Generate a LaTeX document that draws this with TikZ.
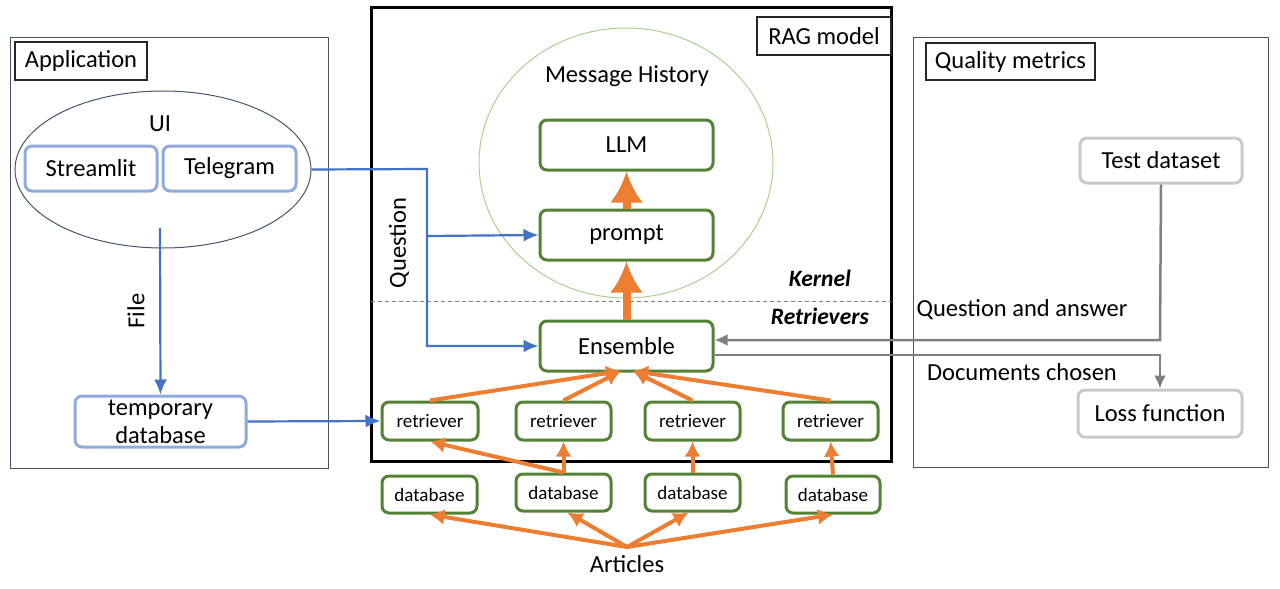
\documentclass[tikz,border=0pt]{standalone}
\usepackage{fontspec}
\setmainfont{Carlito}
\usetikzlibrary{arrows.meta,shapes.geometric}
\definecolor{cblue}{HTML}{4472C4}
\definecolor{lblue}{HTML}{8FAADC}
\definecolor{cgreen}{HTML}{548235}
\definecolor{lgreen}{HTML}{A9D18E}
\definecolor{corange}{HTML}{ED7D31}
\definecolor{cgray}{HTML}{7F7F7F}
\definecolor{lgray}{HTML}{C9C9C9}
\definecolor{slate}{HTML}{44546A}
\newcommand{\fs}[1]{\fontsize{#1}{#1}\selectfont}
\tikzset{
  every node/.style={font=\fs{24.5}, inner sep=0pt},
  frame/.style={draw=slate, line width=1pt},
  titlebox/.style={draw=black!85, line width=1.2pt, inner sep=0pt},
  gbox/.style={draw=cgreen, line width=3pt, rounded corners=7pt, fill=white},
  sbox/.style={gbox, font=\fs{19}},
  bbox/.style={draw=lblue, line width=3pt, rounded corners=7pt, fill=white},
  qbox/.style={draw=lgray, line width=3pt, rounded corners=7pt, fill=white},
  barr/.style={draw=cblue, line width=2.2pt, -{Latex[length=15pt,width=13pt]}},
  oarr/.style={draw=corange, line width=4pt, -{Latex[length=15pt,width=16pt]}},
  bigarr/.style={draw=corange, line width=8pt, -{Latex[length=31pt,width=33pt]}},
  garr/.style={draw=cgray, line width=2.5pt, -{Latex[length=13pt,width=12pt]}},
}
\begin{document}
\begin{tikzpicture}[x=1pt,y=-1pt]
\useasboundingbox (0,0) rectangle (1280,589);

% ---------- Application ----------
\node[frame, minimum width=318pt, minimum height=431pt] (appframe) at (169,252.5) {};
\node[titlebox, minimum width=132pt, minimum height=38pt] (applabel) at (81,61) {Application};
\node[draw=slate, line width=1pt, ellipse, minimum width=296pt, minimum height=157pt] (ui) at (163,169.5) {};
\node (uitext) at (160,124) {UI};
\node[bbox, minimum width=132pt, minimum height=45pt] (streamlit) at (91,168.5) {Streamlit};
\node[bbox, minimum width=133pt, minimum height=45pt] (telegram) at (229.5,168.5) {Telegram};
\node[bbox, minimum width=171pt, minimum height=51pt, align=center, font=\fontsize{24.5}{28}\selectfont] (tempdb) at (160.5,421.5) {temporary\\database};
\coordinate (filestart) at (160,228);
\draw[barr] (filestart) -- (tempdb.north);
\node[rotate=90] (filetext) at (136,311) {File};

% ---------- RAG model ----------
\node[draw=black, line width=3pt, minimum width=520pt, minimum height=454pt] (rag) at (631,234) {};
\node[titlebox, line width=2pt, minimum width=134pt, minimum height=38pt] (raglabel) at (824,36) {RAG model};
\node[draw=lgreen, line width=1pt, ellipse, minimum width=294pt, minimum height=270pt] (hist) at (626,163) {};
\node (histtext) at (627,76) {Message History};
\node[gbox, minimum width=173pt, minimum height=50pt] (llm) at (626.5,145) {LLM};
\node[gbox, minimum width=173pt, minimum height=50pt] (prompt) at (626.5,235) {prompt};
\node[gbox, minimum width=173pt, minimum height=50pt] (ens) at (626.5,346) {Ensemble};
\coordinate (dashL) at (371,301);
\coordinate (dashR) at (891,301);
\draw[gray, line width=1pt, dash pattern=on 4pt off 3pt] (dashL) -- (dashR);
\node[font=\fs{23.5}\bfseries\itshape, anchor=east] (kernel) at (851,278) {Kernel};
\node[font=\fs{23.5}\bfseries\itshape, anchor=east] (retr) at (869,316) {Retrievers};

\draw[bigarr] (prompt.north) -- (llm.south);
\draw[bigarr] (ens.north) -- (prompt.south);

\node[sbox, minimum width=96pt, minimum height=38pt] (r1) at (430,421) {retriever};
\node[sbox, minimum width=95pt, minimum height=38pt] (r2) at (563.5,421) {retriever};
\node[sbox, minimum width=95pt, minimum height=38pt] (r3) at (692.5,421) {retriever};
\node[sbox, minimum width=95pt, minimum height=38pt] (r4) at (830.5,421) {retriever};

\node[sbox, minimum width=95pt, minimum height=37pt] (d1) at (429.5,494.5) {database};
\node[sbox, minimum width=95pt, minimum height=37pt] (d2) at (563.5,492.5) {database};
\node[sbox, minimum width=95pt, minimum height=37pt] (d3) at (692.5,492.5) {database};
\node[sbox, minimum width=94pt, minimum height=37pt] (d4) at (833,494.5) {database};

\node[font=\fs{24.5}] (articles) at (627,564) {Articles};
\coordinate (artsrc) at (627,547);

\coordinate (ensL) at (621,371);
\coordinate (ensR) at (633,371);
\draw[oarr] (r1.north) -- (ensL);
\draw[oarr] (r2.north) -- (ensL);
\draw[oarr] (r3.north) -- (ensR);
\draw[oarr] (r4.north) -- (ensR);

\draw[oarr] (d2.north) -- (r2.south);
\draw[oarr] (d2.north) -- (r1.south);
\draw[oarr] (d3.north) -- (r3.south);
\draw[oarr] (d4.north) -- (r4.south);

\draw[oarr] (artsrc) -- (d1.south);
\draw[oarr] (artsrc) -- ([xshift=4pt]d2.south);
\draw[oarr] (artsrc) -- ([xshift=-4pt]d3.south);
\draw[oarr] (artsrc) -- (d4.south);

% blue connectors
\coordinate (qtop) at (427,169);
\coordinate (qmid) at (427,236);
\coordinate (qbot) at (427,346);
\draw[barr] (ui.east) -- (qtop) -- (qbot) -- (ens.west);
\draw[barr] (qmid) -- (prompt.west);
\node[rotate=90] (qtext) at (399,243) {Question};
\draw[barr] (tempdb.east) -- (r1.west);

% ---------- Quality metrics ----------
\node[frame, minimum width=355pt, minimum height=430pt] (qframe) at (1090.5,252) {};
\node[titlebox, minimum width=169pt, minimum height=37pt] (qlabel) at (1010.5,61.5) {Quality metrics};
\node[qbox, minimum width=162pt, minimum height=45pt] (test) at (1161,160.5) {Test dataset};
\node[qbox, minimum width=164pt, minimum height=47pt] (loss) at (1160,413.5) {Loss function};
\coordinate (qa) at (1160,340);
\coordinate (dc) at (1160,355);
\draw[garr] (test.south) -- (qa) -- (ens.east |- qa);
\draw[garr] (ens.east |- dc) -- (dc) -- (loss.north);
\node (qatext) at (1022,310) {Question and answer};
\node (dctext) at (1022,372) {Documents chosen};
\end{tikzpicture}
\end{document}
